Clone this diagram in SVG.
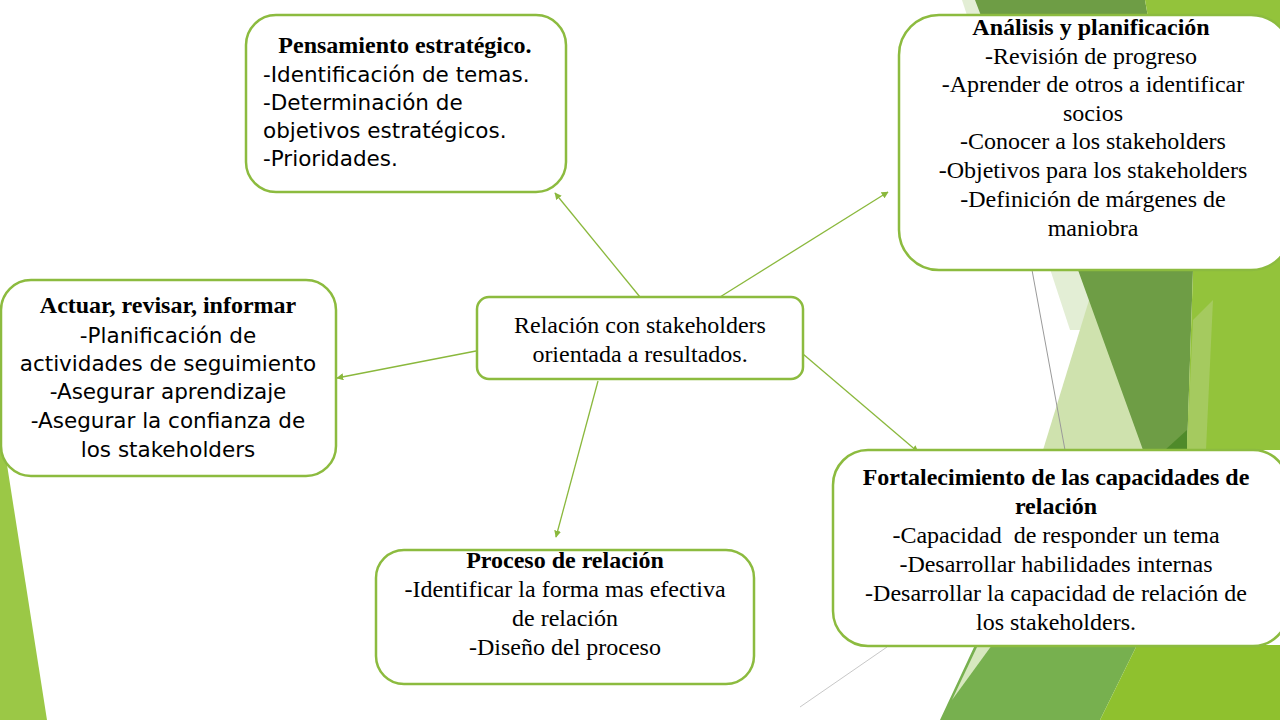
<svg xmlns="http://www.w3.org/2000/svg" width="1280" height="720" viewBox="0 0 1280 720">
<style>
.box{fill:#ffffff;stroke:#8cbb3f;stroke-width:2.5}
.serif{font-family:"Liberation Serif","Times New Roman",serif;fill:#000;text-anchor:middle;font-size:24px;white-space:pre}
.bold{font-weight:bold;font-size:24px}
.sans{font-family:"DejaVu Sans","Open Sans",sans-serif;fill:#000;font-size:21.5px}
.conn{stroke:#8ab83c;stroke-width:1.3;fill:none;marker-end:url(#arr)}
</style>
<defs>
<marker id="arr" viewBox="0 0 10 10" refX="9" refY="5" markerWidth="7" markerHeight="7" orient="auto" markerUnits="userSpaceOnUse">
<path d="M0,0 L10,5 L0,10 z" fill="#8ab83c"/>
</marker>
</defs>
<rect width="1280" height="720" fill="#ffffff"/>
<g id="background">
<polygon points="0,420 47,720 0,720" fill="#9bc846"/>
<polygon points="962,0 1100,0 1110,330 1070,330" fill="#e3eed5"/>
<polygon points="1043,450 1090,297 1130,250 1160,450" fill="#cfe2ae"/>
<polygon points="975,0 1145,0 1193,270 1187,450 1143,450 1078,270" fill="#6e9d45"/>
<polygon points="1165,450 1187,430 1187,450" fill="#4f8a2a"/>
<polygon points="1145,0 1280,0 1280,450 1187,450 1193,270" fill="#93c33b"/>
<polygon points="1193,320 1213,300 1206,450 1187,450" fill="#a5ca5f"/>
<polygon points="975,645 1137,645 1100,720 940,720" fill="#77b04f"/>
<polygon points="978,645 992,645 952,700" fill="#d7e8bf"/>
<polygon points="1137,645 1280,645 1280,720 1100,720" fill="#8fc12e"/>
<line x1="1032" y1="270" x2="1065" y2="450" stroke="#9a9a9a" stroke-width="1"/>
<line x1="800" y1="707" x2="887" y2="647" stroke="#c8c8c8" stroke-width="1"/>
</g>
<g id="connectors">
<line class="conn" x1="640" y1="297" x2="555" y2="193"/>
<line class="conn" x1="720" y1="297" x2="888" y2="192"/>
<line class="conn" x1="476" y1="351" x2="337" y2="378"/>
<line class="conn" x1="598" y1="381" x2="556" y2="537"/>
<line class="conn" x1="803" y1="354" x2="918" y2="452"/>
</g>
<g id="pensamiento">
<rect class="box" x="246" y="15" width="320" height="177" rx="30"/>
<text class="serif bold" x="405" y="53">Pensamiento estratégico.</text>
<text class="sans" x="263" y="82">-Identificación de temas.</text>
<text class="sans" x="263" y="110">-Determinación de</text>
<text class="sans" x="263" y="138">objetivos estratégicos.</text>
<text class="sans" x="263" y="166">-Prioridades.</text>
</g>
<g id="analisis">
<rect class="box" x="899" y="15" width="392" height="255" rx="40"/>
<text class="serif bold" x="1091" y="35">Análisis y planificación</text>
<text class="serif" x="1091" y="64">-Revisión de progreso</text>
<text class="serif" x="1093" y="92">-Aprender de otros a identificar</text>
<text class="serif" x="1093" y="121">socios</text>
<text class="serif" x="1093" y="149">-Conocer a los stakeholders</text>
<text class="serif" x="1093" y="178">-Objetivos para los stakeholders</text>
<text class="serif" x="1093" y="207">-Definición de márgenes de</text>
<text class="serif" x="1093" y="236">maniobra</text>
</g>
<g id="actuar">
<rect class="box" x="1" y="280" width="335" height="196" rx="30"/>
<text class="serif bold" x="168" y="313">Actuar, revisar, informar</text>
<text class="sans" x="168" y="343" text-anchor="middle">-Planificación de</text>
<text class="sans" x="168" y="371" text-anchor="middle">actividades de seguimiento</text>
<text class="sans" x="168" y="399" text-anchor="middle">-Asegurar aprendizaje</text>
<text class="sans" x="168" y="428" text-anchor="middle">-Asegurar la confianza de</text>
<text class="sans" x="168" y="457" text-anchor="middle">los stakeholders</text>
</g>
<g id="centro">
<rect class="box" x="477" y="297" width="326" height="82" rx="12"/>
<text class="serif" x="640" y="333">Relación con stakeholders</text>
<text class="serif" x="640" y="362">orientada a resultados.</text>
</g>
<g id="proceso">
<rect class="box" x="376" y="550" width="378" height="134" rx="28"/>
<text class="serif bold" x="565" y="568">Proceso de relación</text>
<text class="serif" x="565" y="597">-Identificar la forma mas efectiva</text>
<text class="serif" x="565" y="626">de relación</text>
<text class="serif" x="565" y="655">-Diseño del proceso</text>
</g>
<g id="fortalecimiento">
<rect class="box" x="833" y="450" width="455" height="196" rx="35"/>
<text class="serif bold" x="1056" y="485">Fortalecimiento de las capacidades de</text>
<text class="serif bold" x="1056" y="514">relación</text>
<text class="serif" x="1056" y="543">-Capacidad  de responder un tema</text>
<text class="serif" x="1056" y="572">-Desarrollar habilidades internas</text>
<text class="serif" x="1056" y="601">-Desarrollar la capacidad de relación de</text>
<text class="serif" x="1056" y="630">los stakeholders.</text>
</g>
</svg>
